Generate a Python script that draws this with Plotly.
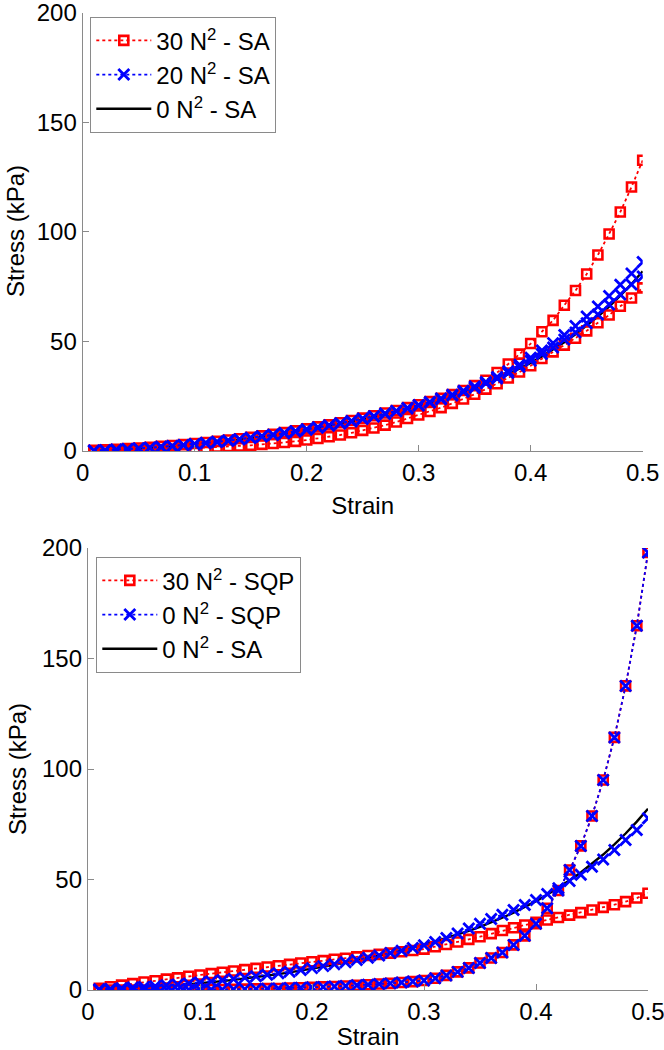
import plotly.graph_objects as go

strain = [0.01, 0.02, 0.03, 0.04, 0.05, 0.06, 0.07, 0.08, 0.09, 0.10,
          0.11, 0.12, 0.13, 0.14, 0.15, 0.16, 0.17, 0.18, 0.19, 0.20,
          0.21, 0.22, 0.23, 0.24, 0.25, 0.26, 0.27, 0.28, 0.29, 0.30,
          0.31, 0.32, 0.33, 0.34, 0.35, 0.36, 0.37, 0.38, 0.39, 0.40,
          0.41, 0.42, 0.43, 0.44, 0.45, 0.46, 0.47, 0.48, 0.49, 0.50]

# 0 N^2 - SA (both panels)
sa_0 = [0.1, 0.3, 0.5, 0.7, 1.0, 1.3, 1.7, 2.1, 2.5, 3.0,
        3.5, 4.0, 4.6, 5.2, 5.8, 6.5, 7.2, 8.0, 8.8, 9.6,
        10.5, 11.4, 12.4, 13.4, 14.5, 15.6, 16.8, 18.0, 19.3, 20.6,
        22.0, 23.5, 25.1, 26.8, 28.6, 30.6, 32.7, 35.0, 37.5, 40.2,
        43.1, 46.2, 49.6, 53.2, 57.1, 61.3, 65.9, 70.8, 76.2, 82.0]

# Top panel: 30 N^2 - SA (two curves)
sa_30_a = [0.3, 0.5, 0.8, 1.1, 1.4, 1.7, 2.1, 2.5, 2.9, 3.4,
           3.9, 4.4, 5.0, 5.6, 6.2, 6.9, 7.6, 8.4, 9.2, 10.1,
           11.0, 11.9, 12.9, 13.9, 15.0, 16.1, 17.3, 18.5, 19.8, 21.1,
           22.5, 24.0, 25.7, 27.6, 29.8, 32.3, 35.8, 39.7, 44.2, 49.0,
           54.4, 59.6, 66.5, 73.2, 80.7, 89.4, 99.0, 109.0, 120.4, 132.6]
sa_30_b = [0.0, 0.1, 0.1, 0.2, 0.3, 0.4, 0.6, 0.8, 1.0, 1.3,
           1.5, 1.8, 2.0, 2.3, 2.6, 3.0, 3.4, 3.9, 4.4, 5.0,
           5.7, 6.5, 7.3, 8.3, 9.4, 10.5, 11.8, 13.2, 14.8, 16.4,
           18.0, 19.8, 21.7, 23.7, 25.9, 28.2, 30.7, 33.3, 36.0, 38.9,
           42.2, 45.2, 48.3, 51.4, 54.8, 58.5, 62.0, 66.0, 69.8, 74.4]

# Top panel: 20 N^2 - SA (two curves)
sa_20_a = [0.2, 0.4, 0.7, 0.9, 1.2, 1.5, 1.9, 2.3, 2.7, 3.2,
           3.7, 4.2, 4.8, 5.4, 6.0, 6.7, 7.4, 8.2, 9.0, 9.9,
           10.8, 11.7, 12.7, 13.7, 14.8, 15.9, 17.1, 18.3, 19.6, 21.0,
           22.4, 24.0, 25.7, 27.5, 29.4, 31.5, 33.8, 36.4, 39.3, 42.5,
           45.8, 49.2, 52.9, 57.0, 61.3, 65.9, 70.7, 75.8, 81.0, 86.2]
sa_20_b = [0.1, 0.3, 0.5, 0.8, 1.1, 1.4, 1.8, 2.2, 2.6, 3.1,
           3.6, 4.1, 4.7, 5.3, 5.9, 6.6, 7.3, 8.1, 8.9, 9.7,
           10.6, 11.5, 12.5, 13.5, 14.6, 15.7, 16.9, 18.1, 19.4, 20.7,
           22.1, 23.6, 25.3, 27.0, 28.9, 30.9, 33.1, 35.6, 38.3, 41.2,
           44.2, 47.2, 50.8, 54.0, 58.3, 62.3, 66.8, 71.4, 75.9, 79.6]

# Bottom panel: 30 N^2 - SQP (two curves)
sqp_30_a = [0.8, 1.5, 2.2, 2.9, 3.6, 4.2, 4.9, 5.5, 6.2, 6.8,
            7.4, 8.0, 8.6, 9.2, 9.8, 10.4, 11.0, 11.6, 12.2, 12.8,
            13.3, 13.9, 14.4, 15.0, 15.6, 16.1, 16.7, 17.3, 17.9, 18.5,
            19.6, 20.6, 21.7, 22.9, 24.1, 25.5, 26.9, 28.2, 29.4, 30.6,
            31.7, 32.8, 33.9, 35.0, 36.2, 37.4, 38.6, 40.0, 41.6, 43.8]
sqp_30_b = [0.0, 0.0, 0.0, 0.0, 0.0, 0.1, 0.1, 0.1, 0.1, 0.2,
            0.2, 0.2, 0.3, 0.4, 0.5, 0.6, 0.7, 0.9, 1.0, 1.2,
            1.4, 1.6, 1.8, 2.1, 2.4, 2.7, 3.0, 3.4, 3.8, 4.3,
            5.3, 6.6, 8.2, 10.0, 12.2, 14.5, 17.0, 20.4, 24.5, 30.0,
            37.0, 45.0, 54.3, 65.2, 78.7, 95.0, 114.3, 137.6, 164.8, 198.0]

# Bottom panel: 0 N^2 - SQP (two curves)
sqp_0_a = [0.3, 0.5, 0.8, 1.1, 1.4, 1.7, 2.1, 2.5, 2.9, 3.4,
           3.9, 4.4, 5.0, 5.6, 6.2, 6.9, 7.6, 8.3, 9.1, 9.9,
           10.8, 11.7, 12.6, 13.6, 14.6, 15.6, 16.7, 17.8, 19.0, 20.2,
           21.7, 23.5, 25.6, 27.8, 30.0, 32.1, 34.0, 36.2, 38.5, 40.7,
           43.4, 46.0, 49.3, 52.2, 55.8, 59.0, 63.3, 67.9, 72.4, 77.7]
sqp_0_b = [0.0, 0.0, 0.0, 0.0, 0.0, 0.1, 0.1, 0.1, 0.1, 0.2,
           0.2, 0.2, 0.3, 0.4, 0.5, 0.6, 0.7, 0.9, 1.0, 1.2,
           1.4, 1.6, 1.8, 2.1, 2.4, 2.7, 3.0, 3.4, 3.8, 4.3,
           5.3, 6.6, 8.2, 10.0, 12.2, 14.5, 17.0, 20.4, 24.5, 30.0,
           37.0, 45.0, 54.3, 65.2, 78.7, 95.0, 114.3, 137.6, 164.8, 198.0]

x_ticks = [0, 0.1, 0.2, 0.3, 0.4, 0.5]
x_tick_text = ["0", "0.1", "0.2", "0.3", "0.4", "0.5"]
y_ticks = [0, 50, 100, 150, 200]

RED = "#FF0000"
BLUE = "#0000FF"
AXC = "#8a8a8a"
FONT = "Liberation Sans, Arial, sans-serif"
FS = 24

fig = go.Figure()


def add_black(y, xa, ya, lg, show):
    fig.add_trace(go.Scatter(
        x=strain, y=y, mode="lines", name="0 N<sup>2</sup> - SA",
        line=dict(color="black", width=2.4), xaxis=xa, yaxis=ya,
        legend=lg, showlegend=show, legendrank=3))


def add_red(y, name, xa, ya, lg, show):
    fig.add_trace(go.Scatter(
        x=strain, y=y, mode="lines+markers", name=name,
        line=dict(color=RED, width=1.8, dash="dot"),
        marker=dict(symbol="square-open", size=9, color=RED,
                    line=dict(color=RED, width=2.6)),
        xaxis=xa, yaxis=ya, legend=lg, showlegend=show, legendrank=1))


def add_blue(y, name, xa, ya, lg, show):
    fig.add_trace(go.Scatter(
        x=strain, y=y, mode="lines+markers", name=name,
        line=dict(color=BLUE, width=1.8, dash="dot"),
        marker=dict(symbol="x-thin", size=11, color=BLUE,
                    line=dict(color=BLUE, width=2.8)),
        xaxis=xa, yaxis=ya, legend=lg, showlegend=show, legendrank=2))


# Top panel
add_black(sa_0, "x", "y", "legend", True)
add_red(sa_30_a, "30 N<sup>2</sup> - SA", "x", "y", "legend", True)
add_red(sa_30_b, "30 N<sup>2</sup> - SA", "x", "y", "legend", False)
add_blue(sa_20_a, "20 N<sup>2</sup> - SA", "x", "y", "legend", True)
add_blue(sa_20_b, "20 N<sup>2</sup> - SA", "x", "y", "legend", False)

# Bottom panel
add_black(sa_0, "x2", "y2", "legend2", True)
add_red(sqp_30_a, "30 N<sup>2</sup> - SQP", "x2", "y2", "legend2", True)
add_red(sqp_30_b, "30 N<sup>2</sup> - SQP", "x2", "y2", "legend2", False)
add_blue(sqp_0_a, "0 N<sup>2</sup> - SQP", "x2", "y2", "legend2", True)
add_blue(sqp_0_b, "0 N<sup>2</sup> - SQP", "x2", "y2", "legend2", False)

W, H = 664, 1050


def px_x(v):
    return v / W


def px_y(v):
    return 1 - v / H


axis_common = dict(
    showline=True, linecolor=AXC, linewidth=1.3,
    ticks="inside", ticklen=6, tickcolor=AXC, tickwidth=1.2,
    showgrid=False, zeroline=False, mirror=False,
    ticklabeloverflow="allow",
    tickfont=dict(family=FONT, size=FS, color="black"),
    automargin=False,
)

fig.update_layout(
    width=W, height=H,
    margin=dict(l=0, r=0, t=0, b=0),
    paper_bgcolor="white", plot_bgcolor="white",
    font=dict(family=FONT, size=FS, color="black"),
    xaxis=dict(domain=[px_x(82.7), px_x(642.7)], anchor="y", range=[0, 0.5],
               tickvals=x_ticks, ticktext=x_tick_text,
               title=dict(text="Strain", standoff=12,
                          font=dict(family=FONT, size=FS)),
               **axis_common),
    yaxis=dict(domain=[px_y(451), px_y(12.5)], anchor="x", range=[0, 200],
               tickvals=y_ticks, **axis_common),
    xaxis2=dict(domain=[px_x(88), px_x(648)], anchor="y2", range=[0, 0.5],
                tickvals=x_ticks, ticktext=x_tick_text,
                title=dict(text="Strain", standoff=11,
                           font=dict(family=FONT, size=FS)),
                **axis_common),
    yaxis2=dict(domain=[px_y(990), px_y(548)], anchor="x2", range=[0, 200],
                tickvals=y_ticks, **axis_common),
    annotations=[
        dict(text="Stress (kPa)", textangle=-90, showarrow=False,
             xref="paper", yref="paper", x=px_x(16), y=px_y(231),
             xanchor="center", yanchor="middle",
             font=dict(family=FONT, size=FS, color="black")),
        dict(text="Stress (kPa)", textangle=-90, showarrow=False,
             xref="paper", yref="paper", x=px_x(17), y=px_y(769),
             xanchor="center", yanchor="middle",
             font=dict(family=FONT, size=FS, color="black")),
    ],
    legend=dict(x=px_x(90), y=px_y(17), xanchor="left", yanchor="top",
                bgcolor="white", bordercolor=AXC, borderwidth=1.3,
                font=dict(family=FONT, size=FS), itemwidth=55,
                tracegroupgap=0),
    legend2=dict(x=px_x(96), y=px_y(557), xanchor="left", yanchor="top",
                 bgcolor="white", bordercolor=AXC, borderwidth=1.3,
                 font=dict(family=FONT, size=FS), itemwidth=55,
                 tracegroupgap=0),
    showlegend=True,
)

# Remove the default 8px page margin so the figure fills the window exactly
fig.write_html(
    "out.html",
    config={"displayModeBar": False},
    post_script="document.body.style.margin='0';"
                "document.body.style.overflow='hidden';",
)
